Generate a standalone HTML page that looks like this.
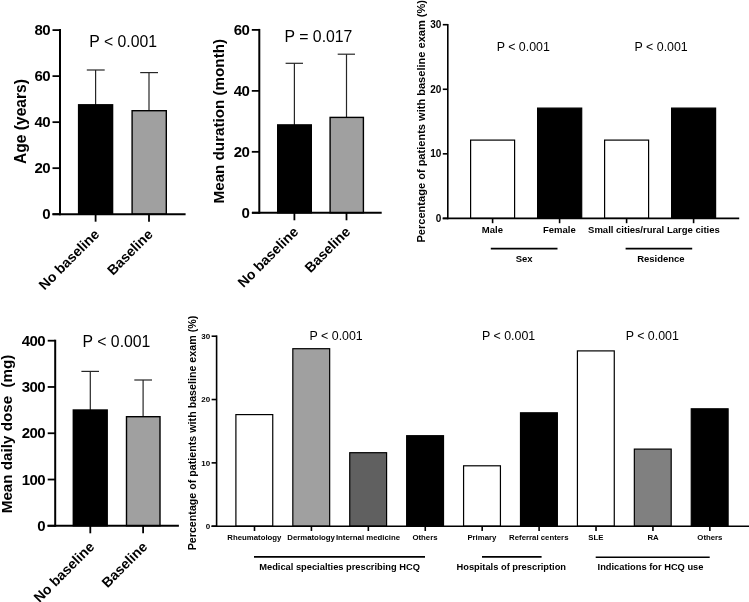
<!DOCTYPE html>
<html lang="en">
<head>
<meta charset="utf-8">
<title>Baseline exam figure</title>
<style>
html,body{margin:0;padding:0;background:#fff;}
body{width:749px;height:602px;overflow:hidden;}
svg{display:block;font-family:"Liberation Sans", Arial, Helvetica, sans-serif;}
</style>
</head>
<body>
<svg width="749" height="602" viewBox="0 0 749 602">
<rect x="0" y="0" width="749" height="602" fill="#fff"/>
<line x1="95.6" y1="70" x2="95.6" y2="105.1" stroke="#262626" stroke-width="1.2"/>
<line x1="86.8" y1="70" x2="104.7" y2="70" stroke="#262626" stroke-width="1.2"/>
<rect x="78.60" y="104.80" width="34.00" height="109.40" fill="#000" stroke="#000" stroke-width="1.4"/>
<line x1="149" y1="72.6" x2="149" y2="111" stroke="#262626" stroke-width="1.2"/>
<line x1="140.2" y1="72.6" x2="158" y2="72.6" stroke="#262626" stroke-width="1.2"/>
<rect x="132.10" y="110.70" width="34.20" height="103.50" fill="#a0a0a0" stroke="#000" stroke-width="1.4"/>
<line x1="60" y1="29.1" x2="60" y2="215.2" stroke="#000" stroke-width="2"/>
<line x1="52.5" y1="214.2" x2="185.6" y2="214.2" stroke="#000" stroke-width="2"/>
<line x1="52.5" y1="214.2" x2="60" y2="214.2" stroke="#000" stroke-width="1.8"/>
<text x="49.9" y="219.4" font-size="15" font-weight="700" letter-spacing="-0.6" text-anchor="end" fill="#000">0</text>
<line x1="52.5" y1="168.17" x2="60" y2="168.17" stroke="#000" stroke-width="1.8"/>
<text x="49.9" y="173.37" font-size="15" font-weight="700" letter-spacing="-0.6" text-anchor="end" fill="#000">20</text>
<line x1="52.5" y1="122.15" x2="60" y2="122.15" stroke="#000" stroke-width="1.8"/>
<text x="49.9" y="127.35" font-size="15" font-weight="700" letter-spacing="-0.6" text-anchor="end" fill="#000">40</text>
<line x1="52.5" y1="76.12" x2="60" y2="76.12" stroke="#000" stroke-width="1.8"/>
<text x="49.9" y="81.33" font-size="15" font-weight="700" letter-spacing="-0.6" text-anchor="end" fill="#000">60</text>
<line x1="52.5" y1="30.1" x2="60" y2="30.1" stroke="#000" stroke-width="1.8"/>
<text x="49.9" y="35.3" font-size="15" font-weight="700" letter-spacing="-0.6" text-anchor="end" fill="#000">80</text>
<line x1="95.6" y1="214.2" x2="95.6" y2="221.7" stroke="#000" stroke-width="1.8"/>
<line x1="149" y1="214.2" x2="149" y2="221.7" stroke="#000" stroke-width="1.8"/>
<text x="89.3" y="47" font-size="15.8" text-anchor="start" fill="#000">P &lt; 0.001</text>
<text x="25.5" y="121.5" font-size="15.6" font-weight="700" text-anchor="middle" transform="rotate(-90 25.5 121.5)" fill="#000">Age (years)</text>
<text x="100.2" y="235.2" font-size="14" font-weight="700" text-anchor="end" transform="rotate(-45 100.2 235.2)" fill="#000">No baseline</text>
<text x="153.7" y="235.2" font-size="14" font-weight="700" text-anchor="end" transform="rotate(-45 153.7 235.2)" fill="#000">Baseline</text>
<line x1="294.4" y1="63.3" x2="294.4" y2="125.2" stroke="#262626" stroke-width="1.2"/>
<line x1="285.6" y1="63.3" x2="303" y2="63.3" stroke="#262626" stroke-width="1.2"/>
<rect x="277.70" y="124.90" width="33.60" height="87.90" fill="#000" stroke="#000" stroke-width="1.4"/>
<line x1="346.5" y1="54.2" x2="346.5" y2="117.7" stroke="#262626" stroke-width="1.2"/>
<line x1="337.7" y1="54.2" x2="355" y2="54.2" stroke="#262626" stroke-width="1.2"/>
<rect x="330.10" y="117.40" width="33.30" height="95.40" fill="#a0a0a0" stroke="#000" stroke-width="1.4"/>
<line x1="259.3" y1="28.9" x2="259.3" y2="213.8" stroke="#000" stroke-width="2"/>
<line x1="252" y1="212.8" x2="381.7" y2="212.8" stroke="#000" stroke-width="2"/>
<line x1="251.8" y1="212.8" x2="259.3" y2="212.8" stroke="#000" stroke-width="1.8"/>
<text x="249.2" y="218.0" font-size="15" font-weight="700" letter-spacing="-0.6" text-anchor="end" fill="#000">0</text>
<line x1="251.8" y1="151.83" x2="259.3" y2="151.83" stroke="#000" stroke-width="1.8"/>
<text x="249.2" y="157.03" font-size="15" font-weight="700" letter-spacing="-0.6" text-anchor="end" fill="#000">20</text>
<line x1="251.8" y1="90.87" x2="259.3" y2="90.87" stroke="#000" stroke-width="1.8"/>
<text x="249.2" y="96.07" font-size="15" font-weight="700" letter-spacing="-0.6" text-anchor="end" fill="#000">40</text>
<line x1="251.8" y1="29.9" x2="259.3" y2="29.9" stroke="#000" stroke-width="1.8"/>
<text x="249.2" y="35.1" font-size="15" font-weight="700" letter-spacing="-0.6" text-anchor="end" fill="#000">60</text>
<line x1="294.4" y1="212.8" x2="294.4" y2="220.3" stroke="#000" stroke-width="1.8"/>
<line x1="346.5" y1="212.8" x2="346.5" y2="220.3" stroke="#000" stroke-width="1.8"/>
<text x="284.6" y="41.9" font-size="15.8" text-anchor="start" fill="#000">P = 0.017</text>
<text x="224.3" y="121.2" font-size="15.2" font-weight="700" text-anchor="middle" transform="rotate(-90 224.3 121.2)" fill="#000">Mean duration (month)</text>
<text x="299.2" y="232.7" font-size="14" font-weight="700" text-anchor="end" transform="rotate(-45 299.2 232.7)" fill="#000">No baseline</text>
<text x="351.2" y="232.7" font-size="14" font-weight="700" text-anchor="end" transform="rotate(-45 351.2 232.7)" fill="#000">Baseline</text>
<line x1="90.3" y1="371.4" x2="90.3" y2="410.3" stroke="#262626" stroke-width="1.2"/>
<line x1="81.4" y1="371.4" x2="99" y2="371.4" stroke="#262626" stroke-width="1.2"/>
<rect x="73.30" y="410.00" width="33.90" height="115.80" fill="#000" stroke="#000" stroke-width="1.4"/>
<line x1="143.1" y1="380" x2="143.1" y2="417" stroke="#262626" stroke-width="1.2"/>
<line x1="134.3" y1="380" x2="152" y2="380" stroke="#262626" stroke-width="1.2"/>
<rect x="126.50" y="416.70" width="33.50" height="109.10" fill="#a0a0a0" stroke="#000" stroke-width="1.4"/>
<line x1="55.2" y1="339.7" x2="55.2" y2="526.8" stroke="#000" stroke-width="2"/>
<line x1="47.5" y1="525.8" x2="178.9" y2="525.8" stroke="#000" stroke-width="2"/>
<line x1="47.7" y1="525.8" x2="55.2" y2="525.8" stroke="#000" stroke-width="1.8"/>
<text x="45.1" y="531.0" font-size="15" font-weight="700" letter-spacing="-0.6" text-anchor="end" fill="#000">0</text>
<line x1="47.7" y1="479.52" x2="55.2" y2="479.52" stroke="#000" stroke-width="1.8"/>
<text x="45.1" y="484.72" font-size="15" font-weight="700" letter-spacing="-0.6" text-anchor="end" fill="#000">100</text>
<line x1="47.7" y1="433.25" x2="55.2" y2="433.25" stroke="#000" stroke-width="1.8"/>
<text x="45.1" y="438.45" font-size="15" font-weight="700" letter-spacing="-0.6" text-anchor="end" fill="#000">200</text>
<line x1="47.7" y1="386.97" x2="55.2" y2="386.97" stroke="#000" stroke-width="1.8"/>
<text x="45.1" y="392.17" font-size="15" font-weight="700" letter-spacing="-0.6" text-anchor="end" fill="#000">300</text>
<line x1="47.7" y1="340.7" x2="55.2" y2="340.7" stroke="#000" stroke-width="1.8"/>
<text x="45.1" y="345.9" font-size="15" font-weight="700" letter-spacing="-0.6" text-anchor="end" fill="#000">400</text>
<line x1="90.3" y1="525.8" x2="90.3" y2="533.3" stroke="#000" stroke-width="1.8"/>
<line x1="143.1" y1="525.8" x2="143.1" y2="533.3" stroke="#000" stroke-width="1.8"/>
<text x="82.6" y="347.4" font-size="15.8" text-anchor="start" fill="#000">P &lt; 0.001</text>
<text x="12.5" y="433.9" font-size="15.2" font-weight="700" text-anchor="middle" transform="rotate(-90 12.5 433.9)" fill="#000">Mean daily dose&#160;&#160;(mg)</text>
<text x="95.2" y="547.7" font-size="14" font-weight="700" text-anchor="end" transform="rotate(-45 95.2 547.7)" fill="#000">No baseline</text>
<text x="148.2" y="547.7" font-size="14" font-weight="700" text-anchor="end" transform="rotate(-45 148.2 547.7)" fill="#000">Baseline</text>
<rect x="470.60" y="140.10" width="44.00" height="78.30" fill="#fff" stroke="#000" stroke-width="1.2"/>
<rect x="537.60" y="108.10" width="44.10" height="110.30" fill="#000" stroke="#000" stroke-width="1.2"/>
<rect x="604.60" y="140.10" width="44.00" height="78.30" fill="#fff" stroke="#000" stroke-width="1.2"/>
<rect x="671.60" y="108.10" width="44.00" height="110.30" fill="#000" stroke="#000" stroke-width="1.2"/>
<line x1="447.8" y1="23.9" x2="447.8" y2="219.2" stroke="#000" stroke-width="1.6"/>
<line x1="442.7" y1="218.4" x2="739.2" y2="218.4" stroke="#000" stroke-width="1.6"/>
<line x1="442.8" y1="218.4" x2="447.8" y2="218.4" stroke="#000" stroke-width="1.6"/>
<text x="441.3" y="221.9" font-size="10" font-weight="700" text-anchor="end" fill="#000">0</text>
<line x1="442.8" y1="153.83" x2="447.8" y2="153.83" stroke="#000" stroke-width="1.6"/>
<text x="441.3" y="157.33" font-size="10" font-weight="700" text-anchor="end" fill="#000">10</text>
<line x1="442.8" y1="89.27" x2="447.8" y2="89.27" stroke="#000" stroke-width="1.6"/>
<text x="441.3" y="92.77" font-size="10" font-weight="700" text-anchor="end" fill="#000">20</text>
<line x1="442.8" y1="24.7" x2="447.8" y2="24.7" stroke="#000" stroke-width="1.6"/>
<text x="441.3" y="28.2" font-size="10" font-weight="700" text-anchor="end" fill="#000">30</text>
<line x1="492.6" y1="218.4" x2="492.6" y2="223.2" stroke="#000" stroke-width="1.6"/>
<line x1="559.6" y1="218.4" x2="559.6" y2="223.2" stroke="#000" stroke-width="1.6"/>
<line x1="626.6" y1="218.4" x2="626.6" y2="223.2" stroke="#000" stroke-width="1.6"/>
<line x1="693.6" y1="218.4" x2="693.6" y2="223.2" stroke="#000" stroke-width="1.6"/>
<text x="492.4" y="233.3" font-size="9.5" font-weight="700" text-anchor="middle" fill="#000">Male</text>
<text x="559.4" y="233.3" font-size="9.5" font-weight="700" text-anchor="middle" fill="#000">Female</text>
<text x="626.1" y="233.3" font-size="9.5" font-weight="700" text-anchor="middle" fill="#000">Small cities/rural</text>
<text x="693.4" y="233.3" font-size="9.5" font-weight="700" text-anchor="middle" fill="#000">Large cities</text>
<line x1="490.8" y1="248.6" x2="557.5" y2="248.6" stroke="#000" stroke-width="1.6"/>
<text x="524.2" y="261.6" font-size="9.5" font-weight="700" text-anchor="middle" fill="#000">Sex</text>
<line x1="625.6" y1="248.6" x2="692.2" y2="248.6" stroke="#000" stroke-width="1.6"/>
<text x="660.9" y="261.6" font-size="9.5" font-weight="700" text-anchor="middle" fill="#000">Residence</text>
<text x="496.7" y="50.8" font-size="12.4" text-anchor="start" fill="#000">P &lt; 0.001</text>
<text x="634.6" y="50.8" font-size="12.4" text-anchor="start" fill="#000">P &lt; 0.001</text>
<text x="424.5" y="242.5" font-size="11.05" font-weight="700" text-anchor="start" transform="rotate(-90 424.5 242.5)" fill="#000">Percentage of patients with baseline exam (%)</text>
<rect x="235.90" y="414.60" width="36.85" height="111.60" fill="#fff" stroke="#000" stroke-width="1.2"/>
<rect x="292.82" y="348.70" width="36.85" height="177.50" fill="#a0a0a0" stroke="#000" stroke-width="1.2"/>
<rect x="349.74" y="452.70" width="36.85" height="73.50" fill="#606060" stroke="#000" stroke-width="1.2"/>
<rect x="406.66" y="435.70" width="36.85" height="90.50" fill="#000" stroke="#000" stroke-width="1.2"/>
<rect x="463.58" y="465.80" width="36.85" height="60.40" fill="#fff" stroke="#000" stroke-width="1.2"/>
<rect x="520.50" y="412.80" width="36.85" height="113.40" fill="#000" stroke="#000" stroke-width="1.2"/>
<rect x="577.42" y="350.90" width="36.85" height="175.30" fill="#fff" stroke="#000" stroke-width="1.2"/>
<rect x="634.34" y="449.10" width="36.85" height="77.10" fill="#808080" stroke="#000" stroke-width="1.2"/>
<rect x="691.26" y="408.80" width="36.85" height="117.40" fill="#000" stroke="#000" stroke-width="1.2"/>
<line x1="216.6" y1="335.4" x2="216.6" y2="527.0" stroke="#000" stroke-width="1.6"/>
<line x1="211.5" y1="526.2" x2="749" y2="526.2" stroke="#000" stroke-width="1.6"/>
<line x1="211.6" y1="526.2" x2="216.6" y2="526.2" stroke="#000" stroke-width="1.6"/>
<text x="210.1" y="529.0" font-size="8" font-weight="700" text-anchor="end" fill="#000">0</text>
<line x1="211.6" y1="462.87" x2="216.6" y2="462.87" stroke="#000" stroke-width="1.6"/>
<text x="210.1" y="465.67" font-size="8" font-weight="700" text-anchor="end" fill="#000">10</text>
<line x1="211.6" y1="399.53" x2="216.6" y2="399.53" stroke="#000" stroke-width="1.6"/>
<text x="210.1" y="402.33" font-size="8" font-weight="700" text-anchor="end" fill="#000">20</text>
<line x1="211.6" y1="336.2" x2="216.6" y2="336.2" stroke="#000" stroke-width="1.6"/>
<text x="210.1" y="339.0" font-size="8" font-weight="700" text-anchor="end" fill="#000">30</text>
<line x1="254.5" y1="526.2" x2="254.5" y2="531.0" stroke="#000" stroke-width="1.6"/>
<line x1="311.42" y1="526.2" x2="311.42" y2="531.0" stroke="#000" stroke-width="1.6"/>
<line x1="368.34" y1="526.2" x2="368.34" y2="531.0" stroke="#000" stroke-width="1.6"/>
<line x1="425.26" y1="526.2" x2="425.26" y2="531.0" stroke="#000" stroke-width="1.6"/>
<line x1="482.18" y1="526.2" x2="482.18" y2="531.0" stroke="#000" stroke-width="1.6"/>
<line x1="539.1" y1="526.2" x2="539.1" y2="531.0" stroke="#000" stroke-width="1.6"/>
<line x1="596.02" y1="526.2" x2="596.02" y2="531.0" stroke="#000" stroke-width="1.6"/>
<line x1="652.94" y1="526.2" x2="652.94" y2="531.0" stroke="#000" stroke-width="1.6"/>
<line x1="709.86" y1="526.2" x2="709.86" y2="531.0" stroke="#000" stroke-width="1.6"/>
<text x="254.4" y="539.6" font-size="7.8" font-weight="700" text-anchor="middle" fill="#000">Rheumatology</text>
<text x="311.1" y="539.6" font-size="7.8" font-weight="700" text-anchor="middle" fill="#000">Dermatology</text>
<text x="368" y="539.6" font-size="7.8" font-weight="700" text-anchor="middle" fill="#000">Internal medicine</text>
<text x="425" y="539.6" font-size="7.8" font-weight="700" text-anchor="middle" fill="#000">Others</text>
<text x="481.9" y="539.6" font-size="7.8" font-weight="700" text-anchor="middle" fill="#000">Primary</text>
<text x="538.8" y="539.6" font-size="7.8" font-weight="700" text-anchor="middle" fill="#000">Referral centers</text>
<text x="595.9" y="539.6" font-size="7.8" font-weight="700" text-anchor="middle" fill="#000">SLE</text>
<text x="653.1" y="539.6" font-size="7.8" font-weight="700" text-anchor="middle" fill="#000">RA</text>
<text x="709.9" y="539.6" font-size="7.8" font-weight="700" text-anchor="middle" fill="#000">Others</text>
<line x1="254" y1="556.9" x2="425" y2="556.9" stroke="#000" stroke-width="1.6"/>
<text x="339.6" y="569.5" font-size="9.3" font-weight="700" text-anchor="middle" fill="#000">Medical specialties prescribing HCQ</text>
<line x1="482" y1="556.9" x2="541.6" y2="556.9" stroke="#000" stroke-width="1.6"/>
<text x="511.3" y="569.5" font-size="9.3" font-weight="700" text-anchor="middle" fill="#000">Hospitals of prescription</text>
<line x1="595.7" y1="557.2" x2="709.7" y2="557.2" stroke="#000" stroke-width="1.6"/>
<text x="650.5" y="569.5" font-size="9.3" font-weight="700" text-anchor="middle" fill="#000">Indications for HCQ use</text>
<text x="309.6" y="340.2" font-size="12.4" text-anchor="start" fill="#000">P &lt; 0.001</text>
<text x="482" y="340.1" font-size="12.4" text-anchor="start" fill="#000">P &lt; 0.001</text>
<text x="625.7" y="340.1" font-size="12.4" text-anchor="start" fill="#000">P &lt; 0.001</text>
<text x="195.6" y="550.3" font-size="10.7" font-weight="700" text-anchor="start" transform="rotate(-90 195.6 550.3)" fill="#000">Percentage of patients with baseline exam (%)</text>
</svg>
</body>
</html>
